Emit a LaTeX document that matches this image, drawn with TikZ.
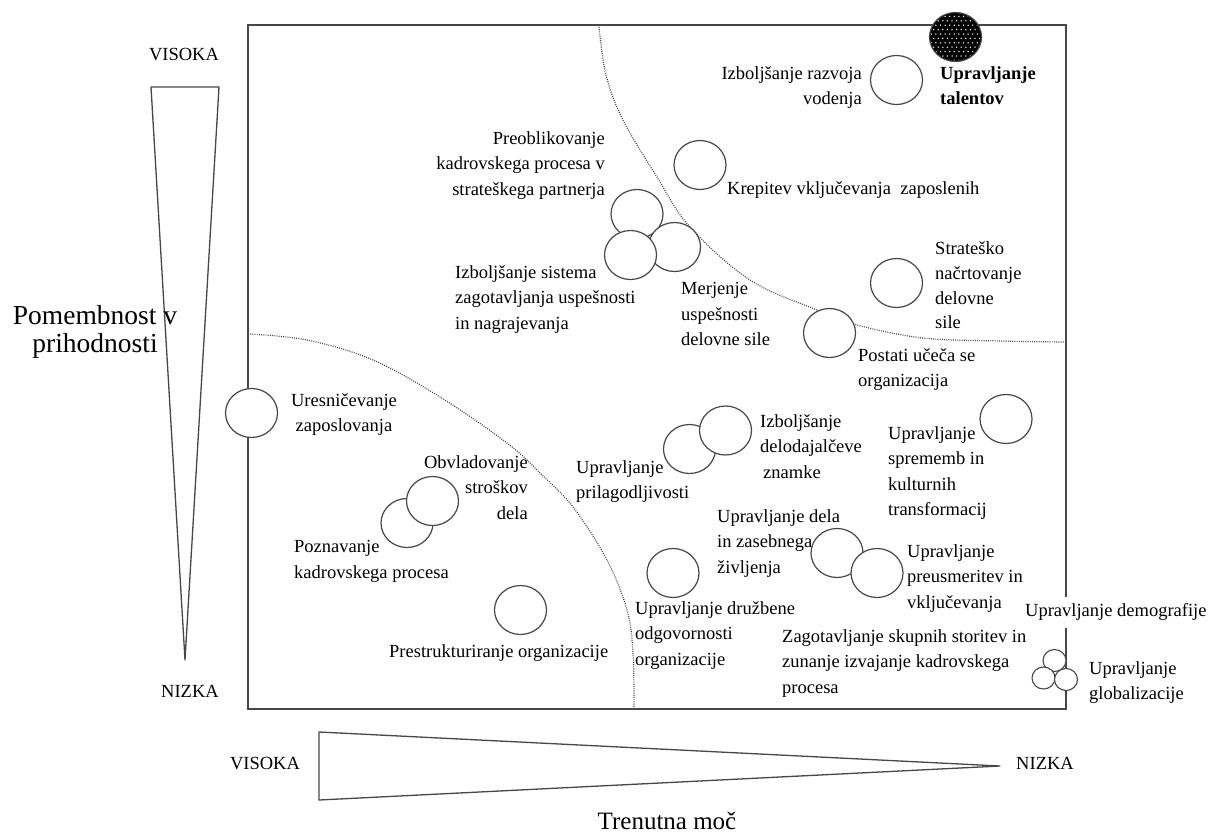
\documentclass[tikz,border=0pt]{standalone}
\usepackage{fontspec}
\setmainfont{Liberation Serif}
\usetikzlibrary{shapes.geometric}
\begin{document}
\begin{tikzpicture}[x=1pt,y=-1pt,
  ln/.style={draw=black!72,line width=1.3pt},
  bub/.style={ellipse,draw=black!72,line width=1.2pt,fill=white,minimum width=52pt,minimum height=49pt,inner sep=0pt},
  sbub/.style={ellipse,draw=black!72,line width=1.1pt,fill=white,minimum width=23pt,minimum height=22pt,inner sep=0pt},
  dotline/.style={draw=black!75,line width=1.2pt,dash pattern=on 0.9pt off 1.3pt},
  txt/.style={inner sep=0pt,font=\fontsize{18.5}{25.4}\selectfont},
  big/.style={inner sep=0pt,font=\fontsize{25}{28}\selectfont}]
\useasboundingbox (0,0) rectangle (1217,833);
% dotted boundaries
\draw[dotline] plot[smooth,tension=0.6] coordinates {(599,27) (606,75) (623,120) (657,177) (690,227) (750,280) (817,310) (857,325) (923,338) (1000,341) (1066,342)};
\draw[dotline] plot[smooth,tension=0.6] coordinates {(248,334) (307,340) (373,360) (440,397) (507,443) (540,473) (573,507) (607,560) (627,610) (633,653) (634,709)};
% frame
\draw[ln] (248,25) rectangle (1066,709);
% scale wedges
\draw[ln,line join=round] (151,87) -- (219,87) -- (185,660) -- cycle;
\draw[ln,line join=round] (319,732) -- (319,800) -- (1000,766) -- cycle;
% axis labels
\node[txt,anchor=north] (vis1) at (184,48) {VISOKA};
\node[txt,anchor=north] (niz1) at (190,685) {NIZKA};
\node[txt,anchor=north] (vis2) at (265,757) {VISOKA};
\node[txt,anchor=north] (niz2) at (1045,757) {NIZKA};
\node[big,anchor=north,align=center,font=\fontsize{27.5}{28}\selectfont] (pom) at (95,305) {Pomembnost v\\prihodnosti};
\node[big,anchor=north] (tre) at (667,811.5) {Trenutna moč};
% talent (black with white dots)
\node[bub,fill=black] (ctal) at (955.5,37) {};
\begin{scope}
  \clip (955.5,37) ellipse [x radius=25pt,y radius=23.5pt];
  \foreach \i in {0,...,11}{
    \foreach \j in {0,...,11}{
      \fill[white] ({929+\i*4.6+mod(\j,2)*2.3},{12+\j*4.4}) circle (0.75pt);
    }
  }
\end{scope}
% circles
\node[bub] (craz) at (896.5,80) {};
\node[bub] (ckre) at (700,165) {};
\node[bub] (cpre) at (637,214) {};
\node[bub] (cmer) at (674.5,247) {};
\node[bub] (csis) at (630.5,255) {};
\node[bub] (cstr) at (896.5,283) {};
\node[bub] (cpos) at (829.5,333) {};
\node[bub] (cure) at (251.5,413) {};
\node[bub] (cpoz) at (407,523) {};
\node[bub] (cobv) at (432.5,501) {};
\node[bub] (cpres) at (520.5,610) {};
\node[bub] (cpri) at (689.5,449) {};
\node[bub] (cdel) at (725.5,430.5) {};
\node[bub] (cspr) at (1006,419) {};
\node[bub] (czas) at (837,553) {};
\node[bub] (cpru) at (877,573) {};
\node[bub] (cdru) at (673,573) {};
\node[sbub] (cdem) at (1054.5,660.5) {};
\node[sbub] (czag) at (1043.5,678) {};
\node[sbub] (cglo) at (1066,679.5) {};
% labels
\node[txt,anchor=north east,align=right] (traz) at (862,66.5) {Izboljšanje razvoja\\vodenja};
\node[txt,anchor=north west,align=left,font=\fontsize{18.5}{25.4}\selectfont\bfseries] (ttal) at (940,66.5) {Upravljanje\\talentov};
\node[txt,anchor=north east,align=right] (tpre) at (605,131.5) {Preoblikovanje\\kadrovskega procesa v\\strateškega partnerja};
\node[txt,anchor=north west] (tkre) at (727,181.5) {Krepitev vključevanja\ \ zaposlenih};
\node[txt,anchor=north west,align=left] (tsis) at (455,265.5) {Izboljšanje sistema\\zagotavljanja uspešnosti\\in nagrajevanja};
\node[txt,anchor=north west,align=left] (tmer) at (681,282.5) {Merjenje\\uspešnosti\\delovne sile};
\node[txt,anchor=north west,align=left,font=\fontsize{18.5}{24.8}\selectfont] (tstr) at (935,241.5) {Strateško\\načrtovanje\\delovne\\sile};
\node[txt,anchor=north west,align=left] (tpos) at (858,348.5) {Postati učeča se\\organizacija};
\node[txt,anchor=north,align=center] (ture) at (344,393.5) {Uresničevanje\\zaposlovanja};
\node[txt,anchor=north east,align=right] (tobv) at (528,455.5) {Obvladovanje\\stroškov\\dela};
\node[txt,anchor=north west,align=left] (tpoz) at (294,540.5) {Poznavanje\\kadrovskega procesa};
\node[txt,anchor=north west] (tpres) at (389,644.5) {Prestrukturiranje organizacije};
\node[txt,anchor=north west,align=left] (tdel) at (760,414.5) {Izboljšanje\\delodajalčeve\\\hspace*{3pt}znamke};
\node[txt,anchor=north west,align=left] (tpri) at (576,460.5) {Upravljanje\\prilagodljivosti};
\node[txt,anchor=north west,align=left] (tspr) at (888,426.5) {Upravljanje\\sprememb in\\kulturnih\\transformacij};
\node[txt,anchor=north west,align=left] (tzas) at (717,509.5) {Upravljanje dela\\in zasebnega\\življenja};
\node[txt,anchor=north west,align=left] (tpru) at (907,544.5) {Upravljanje\\preusmeritev in\\vključevanja};
\node[txt,anchor=north west,align=left] (tdru) at (635,601.5) {Upravljanje družbene\\odgovornosti\\organizacije};
\node[txt,anchor=north west,fill=white,inner ysep=7pt] (tdem) at (1025,596.5) {Upravljanje demografije};
\node[txt,anchor=north west,align=left] (tzag) at (782,629.5) {Zagotavljanje skupnih storitev in\\zunanje izvajanje kadrovskega\\procesa};
\node[txt,anchor=north west,align=left] (tglo) at (1089,661.5) {Upravljanje\\globalizacije};
\end{tikzpicture}
\end{document}
